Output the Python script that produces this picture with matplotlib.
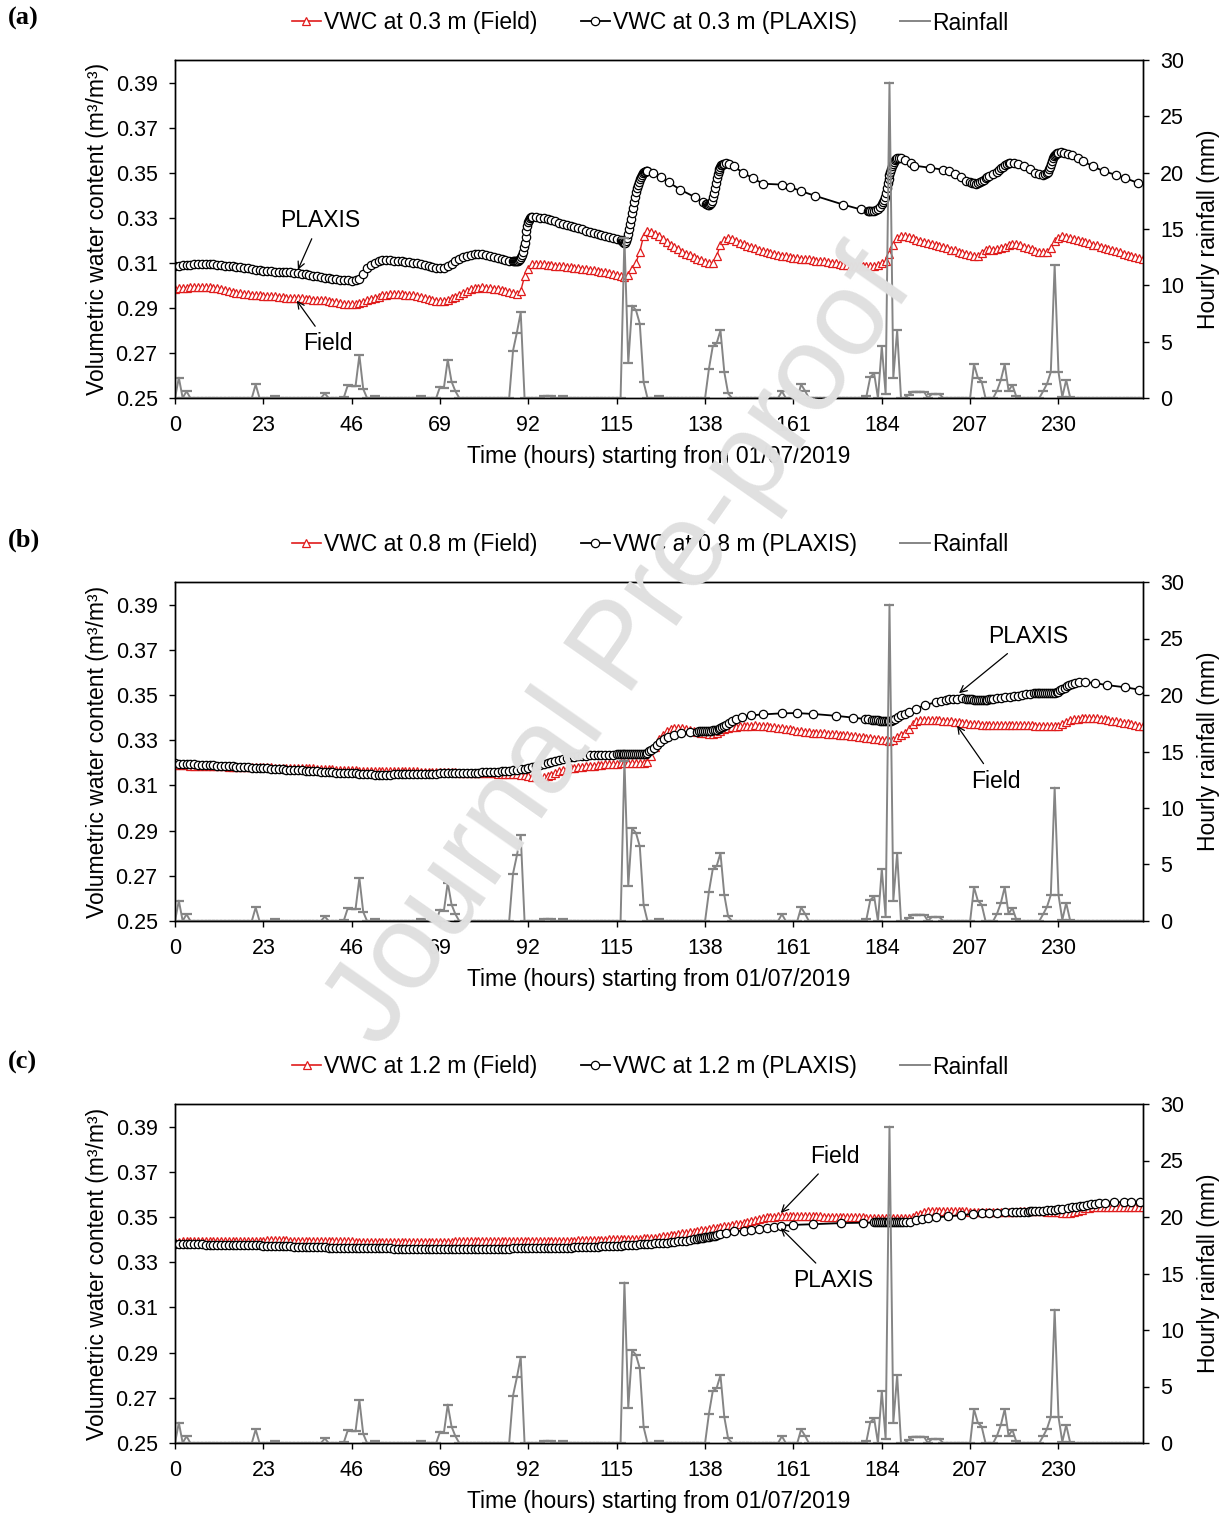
import matplotlib
matplotlib.use("Agg")
import matplotlib.pyplot as plt
from matplotlib.lines import Line2D

plt.rcParams['font.family'] = ['Liberation Sans', 'DejaVu Sans']
plt.rcParams['font.size'] = 16

# ---------------- data ----------------
hours = list(range(0, 253))
x_ticks = [0, 23, 46, 69, 92, 115, 138, 161, 184, 207, 230]
y_ticks = [0.25, 0.27, 0.29, 0.31, 0.33, 0.35, 0.37, 0.39]
rain_ticks = [0, 5, 10, 15, 20, 25, 30]

rainfall = [
    0, 1.8, 0, 0.6, 0, 0, 0, 0, 0, 0, 0, 0, 0, 0, 0, 0, 0, 0, 0, 0,
    0, 1.2, 0, 0, 0, 0, 0.15, 0, 0, 0, 0, 0, 0, 0, 0, 0, 0, 0, 0, 0.4,
    0, 0, 0, 0, 0.1, 1.15, 1.05, 1.05, 3.8, 0.8, 0, 0, 0.15, 0, 0, 0, 0, 0, 0, 0,
    0, 0, 0, 0, 0.15, 0, 0, 0, 0, 1.0, 0.9, 3.4, 1.45, 0.6, 0, 0, 0, 0, 0, 0,
    0, 0, 0, 0, 0, 0, 0, 0, 4.2, 5.8, 7.6, 0, 0, 0, 0, 0, 0.15, 0.15, 0.15, 0,
    0, 0.15, 0, 0, 0, 0, 0, 0, 0, 0, 0, 0, 0, 0, 0, 0, 0, 14.2, 3.1, 8.2,
    7.8, 6.6, 1.4, 0, 0, 0, 0.15, 0, 0, 0, 0, 0, 0, 0, 0, 0, 0, 0, 0, 2.6,
    4.6, 4.85, 6.0, 2.3, 0.4, 0, 0, 0, 0, 0, 0, 0, 0, 0, 0, 0, 0, 0, 0.6, 0,
    0, 0, 0, 1.2, 0.65, 0, 0, 0, 0, 0, 0, 0, 0, 0, 0, 0, 0, 0, 0, 0,
    0.15, 1.85, 2.2, 0, 4.6, 0.35, 28.0, 1.8, 6.0, 0, 0, 0.3, 0.55, 0.55, 0.55, 0.55, 0, 0.35, 0.35, 0.35,
    0, 0, 0, 0, 0, 0, 0, 0, 3.0, 1.8, 1.45, 0, 0, 0, 0.65, 1.6, 3.0, 0.65, 1.15, 0.15,
    0, 0, 0, 0, 0, 0, 0.6, 1.25, 2.3, 11.8, 2.3, 0.1, 1.6, 0.1, 0, 0, 0, 0, 0, 0,
    0, 0, 0, 0, 0, 0, 0, 0, 0, 0, 0, 0, 0,
]

# ---- 0.3 m ----
field_03 = [
    .2985, .2987, .2989, .2990, .2991, .2992, .2992, .2993, .2992, .2991,
    .2989, .2986, .2983, .2980, .2976, .2972, .2968, .2965, .2962, .2960,
    .2958, .2956, .2955, .2954, .2953, .2952, .2951, .2950, .2948, .2946,
    .2945, .2944, .2943, .2942, .2940, .2938, .2937, .2936, .2935, .2933,
    .2930, .2927, .2924, .2920, .2917, .2915, .2915, .2918, .2922, .2927,
    .2933, .2940, .2945, .2950, .2955, .2958, .2961, .2962, .2962, .2961,
    .2959, .2957, .2955, .2952, .2948, .2944, .2940, .2936, .2932, .2930,
    .2932, .2937, .2943, .2950, .2958, .2966, .2975, .2982, .2987, .2990,
    .2991, .2990, .2988, .2985, .2982, .2978, .2975, .2970, .2966, .2962,
    .2975, .3040, .3072, .3093, .3096, .3095, .3094, .3092, .3090, .3088,
    .3086, .3084, .3082, .3080, .3078, .3076, .3074, .3072, .3069, .3066,
    .3063, .3060, .3057, .3053, .3049, .3045, .3040, .3036, .3045, .3072,
    .3100, .3150, .3220, .3243, .3238, .3228, .3218, .3206, .3193, .3180,
    .3170, .3160, .3150, .3141, .3133, .3126, .3119, .3112, .3104, .3097,
    .3100, .3130, .3180, .3202, .3210, .3205, .3198, .3190, .3182, .3176,
    .3170, .3164, .3158, .3153, .3148, .3143, .3139, .3135, .3131, .3128,
    .3125, .3123, .3121, .3119, .3117, .3115, .3113, .3110, .3108, .3106,
    .3104, .3101, .3098, .3095, .3092, .3089, .3087, .3086, .3085, .3085,
    .3084, .3084, .3085, .3090, .3098, .3106, .3140, .3180, .3210, .3218,
    .3217, .3213, .3208, .3203, .3198, .3193, .3188, .3183, .3178, .3173,
    .3168, .3164, .3159, .3155, .3150, .3145, .3140, .3134, .3128, .3130,
    .3145, .3158, .3160, .3158, .3160, .3165, .3172, .3180, .3184, .3183,
    .3178, .3172, .3166, .3160, .3154, .3149, .3146, .3150, .3165, .3195,
    .3210, .3217, .3214, .3209, .3204, .3200, .3196, .3191, .3186, .3181,
    .3177, .3172, .3167, .3162, .3157, .3152, .3147, .3141, .3136, .3131,
    .3125, .3121, .3118,
]

plaxis_03_t = (list(range(0, 89)) +
    [88.25, 88.5, 88.75, 89, 89.25, 89.5, 89.75, 90, 90.25, 90.5, 90.75, 91,
     91.25, 91.5, 91.75, 92, 92.25, 92.5, 92.75, 93] +
    list(range(94, 117)) +
    [116.25, 116.5, 116.75, 117, 117.25, 117.5, 117.75, 118, 118.25, 118.5, 118.75, 119,
     119.25, 119.5, 119.75, 120, 120.25, 120.5, 120.75, 121, 121.25, 121.5, 121.75, 122,
     122.25, 122.5, 122.75, 123] +
    [124.5, 126.5, 128.5, 131.5, 135.5, 137.5,
     138.25, 138.5, 138.75, 139, 139.25, 139.5, 139.75, 140, 140.25, 140.5, 140.75, 141,
     141.25, 141.5, 141.75, 142, 142.25, 142.5, 142.75, 143,
     143.5, 144.2, 145.5, 147.9, 150.5, 153, 158, 160, 163, 166.5, 174, 178.5, 180.4,
     180.75, 181, 181.5, 182, 182.5, 183, 183.5, 184,
     184.25, 184.5, 184.75, 185, 185.25, 185.5, 185.75, 186, 186.25, 186.5, 186.75, 187,
     187.25, 187.5, 187.75, 188,
     188.5, 189, 190, 191.5, 192.5, 196.5, 200, 201.5, 203, 204.6, 206, 207,
     207.5, 208, 208.5, 209, 209.5, 210, 210.5, 211, 211.5, 212,
     213, 214, 214.5, 215, 215.5, 216, 216.5, 217, 217.5, 218.5, 219.5, 221, 222.5, 224,
     225, 226, 226.5, 227,
     227.25, 227.5, 227.75, 228, 228.25, 228.5, 228.75, 229, 229.25, 229.5,
     230, 230.6, 231.5, 232.5, 233.5, 235, 236.5, 239, 241.8, 245, 247.4, 250.7])
plaxis_03 = [
    .3087, .3088, .3090, .3091, .3092, .3093, .3094, .3095, .3096, .3095,
    .3094, .3092, .3090, .3088, .3086, .3084, .3082, .3080, .3078, .3076,
    .3072, .3068, .3066, .3064, .3063, .3062, .3061, .3060, .3059, .3058,
    .3057, .3056, .3054, .3052, .3049, .3046, .3043, .3040, .3037, .3034,
    .3031, .3029, .3027, .3025, .3024, .3022, .3021, .3022, .3030, .3050,
    .3076, .3090, .3100, .3107, .3111, .3113, .3112, .3110, .3108, .3106,
    .3105, .3103, .3101, .3098, .3095, .3091, .3087, .3083, .3079, .3076,
    .3078, .3084, .3095, .3108, .3118, .3124, .3128, .3134, .3138, .3140,
    .3139, .3136, .3132, .3127, .3122, .3117, .3113, .3108, .3106,
    .3106, .3106, .3107, .3108, .3110, .3113, .3118, .3125, .3135, .3150,
    .3168, .3190, .3215, .3240, .3262, .3280, .3292, .3299, .3302, .3303,
    .3303, .3301, .3298, .3294, .3290, .3285, .3278, .3273, .3268, .3263,
    .3258, .3253, .3248, .3243, .3238, .3233, .3228, .3223, .3218, .3213,
    .3208, .3204, .3200,
    .3198, .3196, .3193, .3190, .3190, .3195, .3210, .3230, .3250, .3272,
    .3295, .3320, .3345, .3370, .3392, .3412, .3430, .3446, .3460, .3472,
    .3482, .3490, .3497, .3502, .3505, .3507, .3508, .3508,
    .3500, .3480, .3458, .3425, .3390, .3370,
    .3363, .3360, .3358, .3358, .3360, .3365, .3375, .3390, .3410, .3432,
    .3455, .3475, .3492, .3506, .3517, .3526, .3532, .3536, .3539, .3540,
    .3541, .3540, .3528, .3499, .3475, .3451, .3447, .3437, .3418, .3398,
    .3358, .3337, .3328,
    .3328, .3328, .3329, .3331, .3334, .3340, .3348, .3360,
    .3368, .3378, .3392, .3410, .3430, .3452, .3472, .3490, .3505, .3518,
    .3530, .3540, .3548, .3555, .3560, .3563,
    .3565, .3564, .3555, .3545, .3531, .3522, .3513, .3508, .3495, .3481, .3465, .3458,
    .3455, .3452, .3451, .3453, .3458, .3463, .3468, .3475, .3480, .3487,
    .3495, .3505, .3512, .3520, .3527, .3533, .3538, .3541, .3543, .3543,
    .3538, .3528, .3515, .3500, .3493, .3491, .3493, .3498,
    .3505, .3515, .3527, .3540, .3552, .3563, .3572, .3579, .3584, .3587,
    .3589, .3590, .3588, .3583, .3578, .3565, .3550, .3528, .3506, .3490, .3476, .3454,
]

# ---- 0.8 m ----
field_08 = [
    .3190, .3190, .3189, .3189, .3188, .3188, .3187, .3187, .3186, .3186,
    .3185, .3185, .3184, .3184, .3183, .3183, .3183, .3182, .3182, .3182,
    .3181, .3181, .3181, .3180, .3180, .3180, .3179, .3179, .3178, .3178,
    .3178, .3177, .3177, .3176, .3176, .3175, .3175, .3174, .3173, .3173,
    .3172, .3171, .3170, .3169, .3168, .3167, .3166, .3166, .3165, .3165,
    .3165, .3165, .3164, .3164, .3164, .3164, .3163, .3163, .3163, .3163,
    .3163, .3162, .3162, .3162, .3161, .3161, .3161, .3160, .3160, .3160,
    .3159, .3159, .3158, .3158, .3157, .3157, .3156, .3156, .3155, .3155,
    .3154, .3154, .3153, .3153, .3152, .3152, .3151, .3151, .3150, .3149,
    .3148, .3146, .3143, .3139, .3136, .3134, .3135, .3140, .3147, .3155,
    .3162, .3168, .3173, .3176, .3178, .3180, .3182, .3184, .3186, .3188,
    .3190, .3192, .3193, .3194, .3195, .3196, .3197, .3198, .3198, .3199,
    .3199, .3200, .3200, .3205, .3230, .3270, .3305, .3325, .3340, .3350,
    .3356, .3355, .3352, .3348, .3344, .3340, .3336, .3333, .3330, .3328,
    .3326, .3330, .3340, .3350, .3355, .3357, .3359, .3361, .3363, .3364,
    .3365, .3366, .3365, .3363, .3361, .3359, .3357, .3355, .3352, .3350,
    .3348, .3345, .3342, .3340, .3337, .3335, .3334, .3332, .3331, .3330,
    .3329, .3327, .3326, .3325, .3323, .3321, .3319, .3317, .3315, .3313,
    .3311, .3309, .3307, .3305, .3302, .3299, .3297, .3300, .3312, .3325,
    .3334, .3350, .3370, .3384, .3388, .3390, .3390, .3390, .3389, .3388,
    .3387, .3385, .3383, .3381, .3379, .3377, .3375, .3373, .3371, .3370,
    .3369, .3368, .3368, .3367, .3367, .3367, .3367, .3366, .3366, .3366,
    .3366, .3366, .3366, .3366, .3365, .3365, .3365, .3364, .3364, .3363,
    .3364, .3370, .3380, .3388, .3392, .3396, .3398, .3400, .3400, .3399,
    .3397, .3395, .3392, .3389, .3386, .3383, .3380, .3377, .3374, .3371,
    .3367, .3364, .3361,
]

plaxis_08_t = (list(range(0, 116)) +
    [115.5, 116, 116.5, 117, 117.5, 118, 118.5, 119, 119.5, 120, 120.5, 121, 121.5, 122,
     122.5, 123, 123.5, 124, 124.7, 125.5, 126.3, 127.2, 128.3, 129.8, 131.8, 134, 136,
     136.5, 137, 137.5, 138, 138.5, 139, 139.5, 140, 140.5, 141, 141.5, 142, 142.5, 143, 143.5,
     144.2, 145.1, 146, 147.5, 150, 153, 158, 161.8, 166.2, 172, 176.5, 179.5, 180.5, 181.5,
     182, 182.5, 183, 183.5, 184, 184.5, 185, 185.5, 186, 186.5, 187, 187.5,
     188.2, 189, 190, 191, 193, 195.3, 198, 199.5, 200.6, 201.5, 202.5, 203.5, 205, 206,
     206.5, 207, 207.5, 208, 208.5, 209, 209.5, 210, 210.5, 211, 211.5, 212, 212.5, 213,
     214, 215, 216, 217.4, 218.5, 219.5, 220.5, 221.5, 222.5, 223.5, 224.2, 224.6,
     225, 225.5, 226, 226.5, 227, 227.5, 228, 228.5, 229, 229.5, 230, 230.5, 231,
     231.6, 232.2, 232.8, 233.5, 234.3, 235.3, 236.8, 239.5, 242.5, 247.4, 250.9])
plaxis_08 = [
    .3197, .3196, .3195, .3195, .3194, .3193, .3192, .3192, .3191, .3190,
    .3189, .3188, .3187, .3186, .3185, .3184, .3183, .3182, .3181, .3180,
    .3179, .3178, .3177, .3176, .3175, .3174, .3173, .3172, .3171, .3170,
    .3169, .3168, .3167, .3166, .3165, .3164, .3163, .3162, .3161, .3160,
    .3159, .3158, .3157, .3156, .3156, .3155, .3154, .3153, .3152, .3151,
    .3150, .3149, .3148, .3148, .3148, .3148, .3148, .3149, .3149, .3149,
    .3150, .3150, .3150, .3151, .3151, .3151, .3152, .3152, .3152, .3153,
    .3153, .3153, .3154, .3154, .3155, .3155, .3156, .3156, .3157, .3157,
    .3158, .3158, .3159, .3160, .3161, .3162, .3163, .3165, .3167, .3169,
    .3171, .3173, .3176, .3180, .3185, .3190, .3195, .3200, .3205, .3210,
    .3214, .3218, .3221, .3224, .3227, .3229, .3231, .3232, .3233, .3234,
    .3235, .3235, .3236, .3236, .3236, .3237,
    .3237, .3237, .3237, .3237, .3237, .3237, .3238, .3238, .3238, .3238, .3238, .3238, .3238, .3239,
    .3241, .3245, .3250, .3257, .3267, .3280, .3293, .3305, .3314, .3325, .3334, .3337, .3338,
    .3339, .3339, .3340, .3340, .3341, .3341, .3342, .3343, .3344, .3346, .3349, .3352, .3357, .3362, .3368,
    .3376, .3385, .3392, .3402, .3410, .3414, .3419, .3420, .3416, .3408, .3400, .3394, .3392, .3390,
    .3389, .3388, .3388, .3387, .3387, .3386, .3386, .3386, .3386, .3387, .3390, .3395,
    .3402, .3410, .3418, .3425, .3440, .3455, .3468, .3474, .3478, .3481, .3483, .3484, .3485, .3484,
    .3483, .3482, .3481, .3480, .3479, .3479, .3479, .3479, .3479, .3480, .3480, .3481, .3482, .3483,
    .3485, .3487, .3489, .3491, .3494, .3497, .3500, .3503, .3505, .3507, .3508, .3508,
    .3508, .3508, .3508, .3508, .3508, .3509, .3509, .3509, .3510, .3512, .3515, .3520, .3526,
    .3532, .3538, .3544, .3549, .3553, .3556, .3557, .3553, .3544, .3534, .3524,
]

# ---- 1.2 m ----
field_12 = [
    .3390, .3391, .3392, .3393, .3394, .3395, .3395, .3396, .3396, .3396,
    .3396, .3396, .3396, .3395, .3395, .3395, .3394, .3394, .3394, .3394,
    .3395, .3395, .3396, .3396, .3397, .3397, .3397, .3397, .3397, .3397,
    .3396, .3396, .3395, .3395, .3394, .3394, .3393, .3393, .3392, .3392,
    .3392, .3392, .3392, .3392, .3392, .3392, .3392, .3391, .3391, .3391,
    .3391, .3391, .3391, .3391, .3390, .3390, .3390, .3390, .3390, .3390,
    .3390, .3390, .3390, .3390, .3390, .3390, .3390, .3391, .3391, .3391,
    .3391, .3391, .3391, .3392, .3392, .3392, .3392, .3392, .3392, .3392,
    .3392, .3392, .3393, .3393, .3393, .3393, .3393, .3393, .3393, .3393,
    .3393, .3393, .3393, .3393, .3393, .3393, .3393, .3394, .3394, .3394,
    .3394, .3395, .3395, .3396, .3396, .3397, .3397, .3398, .3398, .3399,
    .3399, .3400, .3400, .3401, .3401, .3402, .3402, .3403, .3403, .3404,
    .3404, .3404, .3405, .3405, .3406, .3408, .3411, .3414, .3417, .3420,
    .3422, .3425, .3428, .3430, .3432, .3435, .3438, .3441, .3444, .3447,
    .3450, .3453, .3456, .3459, .3462, .3465, .3468, .3471, .3475, .3479,
    .3483, .3487, .3491, .3495, .3498, .3500, .3502, .3503, .3503, .3503,
    .3503, .3503, .3503, .3503, .3503, .3503, .3503, .3503, .3503, .3502,
    .3502, .3502, .3501, .3501, .3500, .3500, .3499, .3499, .3498, .3498,
    .3497, .3497, .3496, .3496, .3496, .3495, .3495, .3495, .3495, .3495,
    .3495, .3496, .3500, .3507, .3515, .3521, .3525, .3527, .3528, .3528,
    .3528, .3527, .3527, .3526, .3526, .3525, .3525, .3524, .3523, .3522,
    .3522, .3522, .3522, .3523, .3523, .3523, .3524, .3524, .3524, .3524,
    .3525, .3525, .3525, .3525, .3525, .3525, .3525, .3524, .3523, .3522,
    .3520, .3519, .3518, .3519, .3522, .3527, .3533, .3538, .3541, .3543,
    .3544, .3544, .3544, .3544, .3544, .3544, .3543, .3543, .3543, .3543,
    .3543, .3543, .3543,
]

plaxis_12_t = (list(range(0, 131)) +
    [131, 132, 133, 134, 135, 136, 136.5, 137, 137.5, 138, 138.5, 139, 139.5, 140, 140.5, 141,
     142, 143.5, 145.5, 148, 150, 152, 154, 156, 157.8, 161, 166, 173.4, 179,
     182, 182.5, 183, 183.5, 184, 184.5, 185, 185.5, 186, 186.5, 187, 187.5, 188, 188.5, 189,
     189.5, 190.2, 191.4,
     193, 194.5, 196, 198, 201.2, 204.5, 207.8, 210, 212, 214, 216, 218, 219, 220, 221, 222,
     222.5, 223,
     224, 225, 226, 227, 228, 229, 230, 231, 232.4, 233.5, 234.5, 235.5, 236.5, 237.5, 238.5,
     239.5, 240.5, 242.2, 244.5, 247, 249, 251.2])
plaxis_12 = [
    .3382, .3382, .3381, .3381, .3380, .3380, .3379, .3379, .3378, .3378,
    .3378, .3377, .3377, .3377, .3376, .3376, .3376, .3375, .3375, .3375,
    .3374, .3374, .3374, .3373, .3373, .3372, .3372, .3371, .3371, .3370,
    .3370, .3369, .3369, .3368, .3368, .3367, .3367, .3366, .3366, .3366,
    .3365, .3365, .3364, .3364, .3364, .3363, .3363, .3363, .3362, .3362,
    .3362, .3362, .3361, .3361, .3361, .3361, .3361, .3360, .3360, .3360,
    .3360, .3360, .3360, .3360, .3360, .3359, .3359, .3359, .3359, .3359,
    .3359, .3359, .3359, .3359, .3359, .3359, .3359, .3359, .3359, .3359,
    .3359, .3359, .3359, .3360, .3360, .3360, .3360, .3360, .3361, .3361,
    .3361, .3362, .3362, .3362, .3363, .3363, .3363, .3364, .3364, .3364,
    .3364, .3365, .3365, .3365, .3366, .3366, .3367, .3367, .3368, .3368,
    .3369, .3370, .3370, .3371, .3372, .3372, .3373, .3374, .3375, .3377,
    .3378, .3379, .3380, .3381, .3382, .3383, .3384, .3385, .3386, .3388, .3390,
    .3392, .3394, .3396, .3399, .3402, .3404, .3405, .3407, .3408, .3410, .3411, .3412,
    .3414, .3416, .3418, .3420,
    .3424, .3430, .3436, .3440, .3442, .3446, .3452, .3457, .3462, .3465, .3468, .3473, .3475,
    .3476, .3476, .3476, .3476, .3476, .3476, .3476, .3476, .3477, .3477, .3477, .3477,
    .3478, .3478, .3478, .3479, .3479, .3480,
    .3485, .3490, .3494, .3498, .3503, .3508, .3513, .3516, .3518, .3519, .3520, .3522,
    .3522, .3523, .3524, .3524, .3525, .3525,
    .3526, .3527, .3528, .3529, .3530, .3532, .3534, .3536, .3540, .3543, .3546, .3548,
    .3550, .3553, .3556, .3558, .3560, .3563, .3565, .3566, .3567, .3567,
]

panels = [
    ("(a)", "0.3", field_03, plaxis_03_t, plaxis_03),
    ("(b)", "0.8", field_08, plaxis_08_t, plaxis_08),
    ("(c)", "1.2", field_12, plaxis_12_t, plaxis_12),
]

# ---------------- figure ----------------
W, H = 1227, 1517
fig = plt.figure(figsize=(W / 100, H / 100), dpi=100)

RED = '#e01b1b'
GREY = '#858585'
FS_TICK = 15.5
FS_TXT = 16.5

boxes = [(60, 398), (582, 921), (1104, 1443)]
left_px, right_px = 175, 1143

annots = [
    [("PLAXIS", (32.0, 0.3069), (37.7, 0.3287)), ("Field", (31.7, 0.2932), (39.8, 0.2740))],
    [("PLAXIS", (204.1, 0.3508), (222.1, 0.3758)), ("Field", (203.6, 0.3364), (213.7, 0.3118))],
    [("Field", (157.7, 0.3518), (171.8, 0.3767)), ("PLAXIS", (157.7, 0.3451), (171.3, 0.3220))],
]

for i, (lab, depth, fld, pt, pv) in enumerate(panels):
    top, bot = boxes[i]
    ax = fig.add_axes([left_px / W, 1 - bot / H, (right_px - left_px) / W, (bot - top) / H])
    ax2 = ax.twinx()

    ax.plot(hours, fld, color=RED, lw=1.0, marker='^', ms=5.5, mfc='white',
            mec=RED, mew=0.9, zorder=3)
    ax.plot(pt, pv, color='black', lw=1.3, marker='o', ms=6, mfc='white',
            mec='black', mew=0.9, zorder=4)
    ax2.plot(hours, rainfall, color=GREY, lw=1.4, marker='_', ms=7, mew=1.6)

    ax.set_xlim(0, 252)
    ax.set_ylim(0.25, 0.40)
    ax2.set_ylim(0, 30)
    ax.set_xticks(x_ticks)
    ax.set_yticks(y_ticks)
    ax.set_yticklabels([f"{v:.2f}" for v in y_ticks])
    ax2.set_yticks(rain_ticks)

    for a in (ax, ax2):
        a.tick_params(direction='out', length=4.5, width=1, pad=8, labelsize=FS_TICK)
        for s in a.spines.values():
            s.set_linewidth(1.0)
            s.set_color('black')

    ax.set_xlabel("Time (hours) starting from 01/07/2019", fontsize=FS_TXT, labelpad=6)
    ax.set_ylabel("Volumetric water content (m³/m³)", fontsize=FS_TXT, labelpad=5)
    ax2.set_ylabel("Hourly rainfall (mm)", fontsize=FS_TXT, labelpad=9)

    for txt, xy, xyt in annots[i]:
        ax.annotate(txt, xy=xy, xytext=xyt, ha='center', va='center', fontsize=FS_TXT,
                    arrowprops=dict(arrowstyle='->', color='black', lw=0.9,
                                    shrinkA=3, shrinkB=0, mutation_scale=12),
                    zorder=10)

    handles = [
        Line2D([], [], color=RED, lw=1.2, marker='^', ms=5.5, mfc='white', mec=RED, mew=0.9),
        Line2D([], [], color='black', lw=1.3, marker='o', ms=6, mfc='white', mec='black', mew=0.9),
        Line2D([], [], color=GREY, lw=1.4),
    ]
    labels = [f"VWC at {depth} m (Field)", f"VWC at {depth} m (PLAXIS)", "Rainfall"]
    ax2.legend(handles, labels, loc='center', ncol=3, frameon=False, fontsize=FS_TXT,
               bbox_to_anchor=(650 / W, 1 - (top - 37) / H), bbox_transform=fig.transFigure,
               handlelength=1.3, handletextpad=0.1, columnspacing=1.9, numpoints=1)

    fig.text(8 / W, 1 - (top - 42) / H, lab, fontsize=19, fontweight='bold',
             family=['Liberation Serif', 'DejaVu Serif'], ha='left', va='center')

# watermark
fig.text(622 / W, 1 - 650 / H, "Journal Pre-proof", rotation=55, fontsize=87,
         color='#e0e0e0', ha='center', va='center', zorder=100)

fig.savefig("out.png", dpi=100)
